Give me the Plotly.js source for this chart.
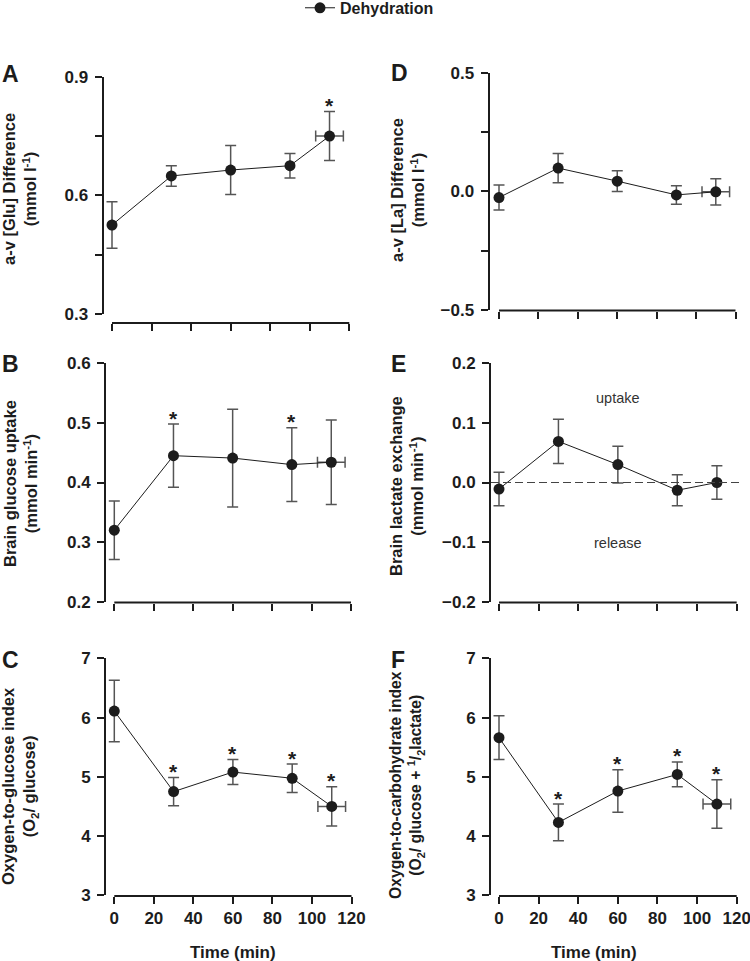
<!DOCTYPE html>
<html>
<head>
<meta charset="utf-8">
<script src="https://cdn.plot.ly/plotly-3.0.1.min.js"></script>
<style>html,body{margin:0;padding:0;background:#fff}#chart{width:750px;height:961px}</style>
</head>
<body>
<div id="chart"></div>
<script>
// ---------------- DATA ----------------
const time = [0, 30, 60, 90, 110];
const timeErr = [0, 0, 0, 0, 7];
const xTicks = [0, 20, 40, 60, 80, 100, 120];

const gluDiff = [0.525, 0.649, 0.664, 0.675, 0.750];
const gluDiffErr = [0.059, 0.026, 0.062, 0.031, 0.062];
const gluDiffStar = [0, 0, 0, 0, 1];

const laDiff = [-0.026, 0.098, 0.043, -0.015, -0.002];
const laDiffErr = [0.053, 0.062, 0.044, 0.039, 0.055];
const laDiffStar = [0, 0, 0, 0, 0];

const gluUptake = [0.320, 0.445, 0.441, 0.430, 0.434];
const gluUptakeErr = [0.049, 0.053, 0.082, 0.062, 0.071];
const gluUptakeStar = [0, 1, 0, 1, 0];

const laExch = [-0.011, 0.069, 0.030, -0.013, 0.000];
const laExchErr = [0.028, 0.037, 0.031, 0.026, 0.028];
const laExchStar = [0, 0, 0, 0, 0];

const ogi = [6.11, 4.75, 5.08, 4.975, 4.50];
const ogiErr = [0.52, 0.24, 0.21, 0.24, 0.33];
const ogiStar = [0, 1, 1, 1, 1];

const oci = [5.66, 4.23, 4.76, 5.04, 4.54];
const ociErr = [0.37, 0.31, 0.36, 0.21, 0.41];
const ociStar = [0, 1, 1, 1, 1];

// labelled (major) and unlabelled (minor) y ticks
const ticksA = [0.3, 0.6, 0.9];
const minorA = [0.45, 0.75];
const ticksD = [-0.5, 0, 0.5];
const minorD = [-0.25, 0.25];
const ticksB = [0.2, 0.3, 0.4, 0.5, 0.6];
const ticksE = [-0.2, -0.1, 0, 0.1, 0.2];
const ticksC = [3, 4, 5, 6, 7];

const seriesName = 'Dehydration';
const xTitle = 'Time (min)';

// ---------------- LAYOUT GEOMETRY (pixels) ----------------
const W = 750, H = 961;
const px2x = p => p / W;
const px2y = p => 1 - p / H;
const INK = '#1c1c1c';
const FONT = 'Liberation Sans, Arial, Helvetica, sans-serif';

const panels = [
  {letter:'A', y:gluDiff, e:gluDiffErr, star:gluDiffStar, hErr:true, tv:ticksA, mv:minorA, fmt:'.1f', yr:[0.3,0.9],
   title:'a-v [Glu] Difference<br>(mmol l<sup>-1</sup>)', tsize:16.5, yAx:103.5, x0:112, x120:349.3, xEnd:353, top:76.7, bot:314, xAxY:323, bottomRow:false, titleX:20, titleY:189, letX:0, letY:74},
  {letter:'D', y:laDiff, e:laDiffErr, star:laDiffStar, hErr:true, tv:ticksD, mv:minorD, fmt:'.1f', yr:[-0.5,0.5],
   title:'a-v [La] Difference<br>(mmol l<sup>-1</sup>)', tsize:16.5, yAx:489.5, x0:499, x120:735.5, xEnd:741, top:72.7, bot:310, xAxY:310.5, bottomRow:false, titleX:407, titleY:190, letX:389, letY:73},
  {letter:'B', y:gluUptake, e:gluUptakeErr, star:gluUptakeStar, hErr:true, tv:ticksB, mv:[], fmt:'.1f', yr:[0.2,0.6],
   title:'Brain glucose uptake<br>(mmol min<sup>-1</sup>)', tsize:16.5, yAx:106, x0:114.3, x120:351, xEnd:355, top:363.3, bot:601.7, xAxY:602.5, bottomRow:false, titleX:20, titleY:484, letX:0, letY:364},
  {letter:'E', y:laExch, e:laExchErr, star:laExchStar, hErr:false, tv:ticksE, mv:[], fmt:'.1f', yr:[-0.2,0.2],
   title:'Brain lactate exchange<br>(mmol min<sup>-1</sup>)', tsize:16.5, yAx:491, x0:499, x120:736.7, xEnd:741, top:363.3, bot:601.7, xAxY:602.5, bottomRow:false, titleX:406, titleY:486, letX:389, letY:364},
  {letter:'C', y:ogi, e:ogiErr, star:ogiStar, hErr:true, tv:ticksC, mv:[], fmt:'d', yr:[3,7],
   title:'Oxygen-to-glucose index<br>(O<sub>2</sub>/ glucose)', tsize:16.5, yAx:106, x0:114.3, x120:351.5, xEnd:355, top:658.3, bot:895.3, xAxY:896, bottomRow:true, xtX:233, xtY:952, titleX:20, titleY:786, letX:0, letY:660},
  {letter:'F', y:oci, e:ociErr, star:ociStar, hErr:true, tv:ticksC, mv:[], fmt:'d', yr:[3,7],
   title:'Oxygen-to-carbohydrate index<br>(O<sub>2</sub>/ glucose + <sup>1</sup>/<sub>2</sub>lactate)', tsize:15.7, yAx:491, x0:499, x120:736.7, xEnd:741, top:658.3, bot:895.3, xAxY:896, bottomRow:true, xtX:594, xtY:952, titleX:407, titleY:785, letX:389, letY:660}
];

const traces = [];
const layout = {
  width: W, height: H,
  margin: {l:0, r:0, t:0, b:0, pad:0, autoexpand:false},
  paper_bgcolor: '#fff', plot_bgcolor: 'rgba(0,0,0,0)',
  font: {family: FONT, color: INK, size: 17, weight: 'bold'},
  showlegend: true,
  legend: {orientation:'h', x: px2x(300), xanchor:'left', y: 1.0095, yanchor:'top',
           font:{size:16, weight:'bold', color:INK}, bgcolor:'rgba(0,0,0,0)', itemwidth:30},
  annotations: [],
  shapes: []
};

panels.forEach((p, i) => {
  const n = i === 0 ? '' : String(i + 1);
  const xa = 'x' + n, ya = 'y' + n;
  const s = (p.x120 - p.x0) / 120;
  const xmin = -(p.x0 - p.yAx) / s;
  const xmax = 120 + (p.xEnd - p.x120) / s;
  const xAxisPos = px2y(p.xAxY);

  layout['xaxis' + n] = {
    domain: [px2x(p.yAx), px2x(p.xEnd)], range: [xmin, xmax],
    anchor: 'free', position: xAxisPos,
    showline: false, showgrid: false, zeroline: false,
    ticks: 'outside', ticklen: 7, tickwidth: 2, tickcolor: INK,
    tickmode: 'array', tickvals: xTicks, showticklabels: p.bottomRow,
    ticklabeloverflow: 'allow',
    tickfont: {size: 17, weight: 'bold', color: INK},
    automargin: false,
    fixedrange: true
  };
  const yax = {
    domain: [px2y(p.bot), px2y(p.top)], range: p.yr, anchor: xa,
    showline: true, linewidth: 2, linecolor: INK, mirror: false,
    showgrid: false, zeroline: false,
    ticks: 'outside', ticklen: 7, tickwidth: 2, tickcolor: INK,
    tickmode: 'array', tickvals: p.tv, tickformat: p.fmt,
    tickfont: {size: 17, weight: 'bold', color: INK},
    ticklabelstandoff: 3,
    automargin: false,
    fixedrange: true
  };
  if (p.mv.length) {
    yax.minor = {tickmode:'array', tickvals: p.mv, ticks:'outside', ticklen:7, tickwidth:2, tickcolor:INK, showgrid:false};
  }
  layout['yaxis' + n] = yax;

  // x axis line from first to last tick
  layout.shapes.push({type:'line', xref:xa, yref:'paper', x0:xTicks[0], x1:xTicks[xTicks.length-1],
    y0:xAxisPos, y1:xAxisPos, line:{color:INK, width:2}});

  traces.push({
    type:'scatter', mode:'lines+markers', x: time, y: p.y, xaxis: xa, yaxis: ya,
    name: seriesName, showlegend: i === 0,
    line: {color: INK, width: 1},
    marker: {color: INK, size: 11, symbol:'circle'},
    error_y: {type:'data', array: p.e, visible: true, color:'#555', thickness:1.5, width:5.5},
    error_x: {type:'data', array: timeErr, visible: p.hErr, color:'#555', thickness:1.5, width:5.5}
  });

  // significance stars
  p.star.forEach((f, k) => {
    if (f) layout.annotations.push({xref:xa, yref:ya, x: time[k], y: p.y[k] + p.e[k],
      text:'*', showarrow:false, xanchor:'center', yanchor:'middle', yshift:6,
      font:{size:21, weight:'bold', color:INK}});
  });

  // x-axis title (bottom row)
  if (p.bottomRow) {
    layout.annotations.push({xref:'paper', yref:'paper', x: px2x(p.xtX), y: px2y(p.xtY),
      text: xTitle, showarrow:false, xanchor:'center', yanchor:'middle',
      font:{size:17, weight:'bold', color:INK}});
  }
  // y-axis title
  layout.annotations.push({xref:'paper', yref:'paper', x: px2x(p.titleX), y: px2y(p.titleY),
    text: p.title, textangle: -90, showarrow:false, xanchor:'center', yanchor:'middle',
    font:{size:p.tsize, weight:'bold', color:INK}});
  // panel letter
  layout.annotations.push({xref:'paper', yref:'paper', x: px2x(p.letX), y: px2y(p.letY),
    text: p.letter, showarrow:false, xanchor:'left', yanchor:'middle',
    font:{size:23, weight:'bold', color:INK}});
});

// Panel E: zero reference line and labels
layout.shapes.push({type:'line', xref:'x4 domain', yref:'y4', x0:0, x1:1, y0:0, y1:0,
  line:{color:'#444', width:1, dash:'8px,4px'}});
layout.annotations.push({xref:'x4', yref:'y4', x:60, y:0.142, text:'uptake', showarrow:false,
  font:{size:14.5, weight:'normal', color:'#333'}});
layout.annotations.push({xref:'x4', yref:'y4', x:60, y:-0.101, text:'release', showarrow:false,
  font:{size:14.5, weight:'normal', color:'#333'}});

Plotly.newPlot('chart', traces, layout, {displayModeBar:false, staticPlot:true});
</script>
</body>
</html>
